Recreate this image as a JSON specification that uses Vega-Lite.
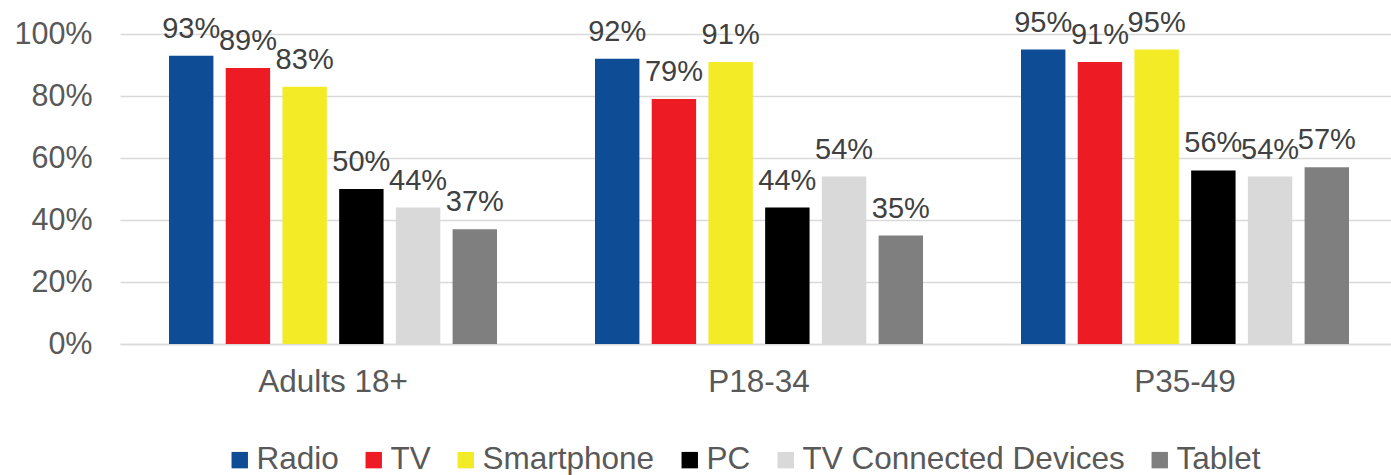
{
  "$schema": "https://vega.github.io/schema/vega-lite/v6.json",
  "width": 1271,
  "height": 310,
  "autosize": {"type": "none"},
  "padding": {"left": 120, "top": 34, "right": 0, "bottom": 131},
  "background": "white",
  "config": {
    "view": {"stroke": null},
    "font": "Liberation Sans",
    "axis": {"labelFont": "Liberation Sans", "labelColor": "#595959", "labelFontSize": 30},
    "legend": {"labelFont": "Liberation Sans"}
  },
  "data": {
    "values": [
      {"group": "Adults 18+", "device": "Radio", "value": 0.93},
      {"group": "Adults 18+", "device": "TV", "value": 0.89},
      {"group": "Adults 18+", "device": "Smartphone", "value": 0.83},
      {"group": "Adults 18+", "device": "PC", "value": 0.50},
      {"group": "Adults 18+", "device": "TV Connected Devices", "value": 0.44},
      {"group": "Adults 18+", "device": "Tablet", "value": 0.37},
      {"group": "P18-34", "device": "Radio", "value": 0.92},
      {"group": "P18-34", "device": "TV", "value": 0.79},
      {"group": "P18-34", "device": "Smartphone", "value": 0.91},
      {"group": "P18-34", "device": "PC", "value": 0.44},
      {"group": "P18-34", "device": "TV Connected Devices", "value": 0.54},
      {"group": "P18-34", "device": "Tablet", "value": 0.35},
      {"group": "P35-49", "device": "Radio", "value": 0.95},
      {"group": "P35-49", "device": "TV", "value": 0.91},
      {"group": "P35-49", "device": "Smartphone", "value": 0.95},
      {"group": "P35-49", "device": "PC", "value": 0.56},
      {"group": "P35-49", "device": "TV Connected Devices", "value": 0.54},
      {"group": "P35-49", "device": "Tablet", "value": 0.57}
    ]
  },
  "encoding": {
    "x": {
      "field": "group", "type": "nominal", "sort": ["Adults 18+", "P18-34", "P35-49"],
      "scale": {"paddingInner": 0.23, "paddingOuter": 0.115, "range": [0, 1278]},
      "axis": {"title": null, "labelAngle": 0, "ticks": false, "domain": true, "domainColor": "#d9d9d9", "domainWidth": 1.5, "labelPadding": 22, "labelFontSize": 31.5, "grid": false}
    },
    "xOffset": {
      "field": "device", "type": "nominal",
      "sort": ["Radio", "TV", "Smartphone", "PC", "TV Connected Devices", "Tablet"],
      "scale": {"paddingInner": 0.217, "paddingOuter": 0}
    },
    "y": {
      "field": "value", "type": "quantitative",
      "scale": {"domain": [0, 1], "nice": false},
      "axis": {"title": null, "format": ".0%", "values": [0, 0.2, 0.4, 0.6, 0.8, 1], "ticks": false, "domain": false, "grid": true, "gridColor": "#d9d9d9", "gridWidth": 1.5, "labelPadding": 28, "labelFontSize": 30.5}
    }
  },
  "layer": [
    {
      "mark": {"type": "bar"},
      "encoding": {
        "color": {
          "field": "device", "type": "nominal",
          "scale": {
            "domain": ["Radio", "TV", "Smartphone", "PC", "TV Connected Devices", "Tablet"],
            "range": ["#0E4C96", "#ED1C24", "#F3EB26", "#000000", "#D9D9D9", "#7F7F7F"]
          },
          "legend": {
            "title": null, "orient": "none", "direction": "horizontal", "columns": 6,
            "legendX": 104, "legendY": 410,
            "symbolType": "square", "symbolSize": 270, "symbolStrokeWidth": 0,
            "labelFontSize": 31.5, "labelColor": "#595959", "labelOffset": 1,
            "columnPadding": 19, "labelLimit": 500
          }
        }
      }
    },
    {
      "mark": {"type": "text", "baseline": "alphabetic", "dy": -18, "fontSize": 29, "color": "#404040", "font": "Liberation Sans"},
      "encoding": {
        "text": {"field": "value", "type": "quantitative", "format": ".0%"}
      }
    }
  ]
}
